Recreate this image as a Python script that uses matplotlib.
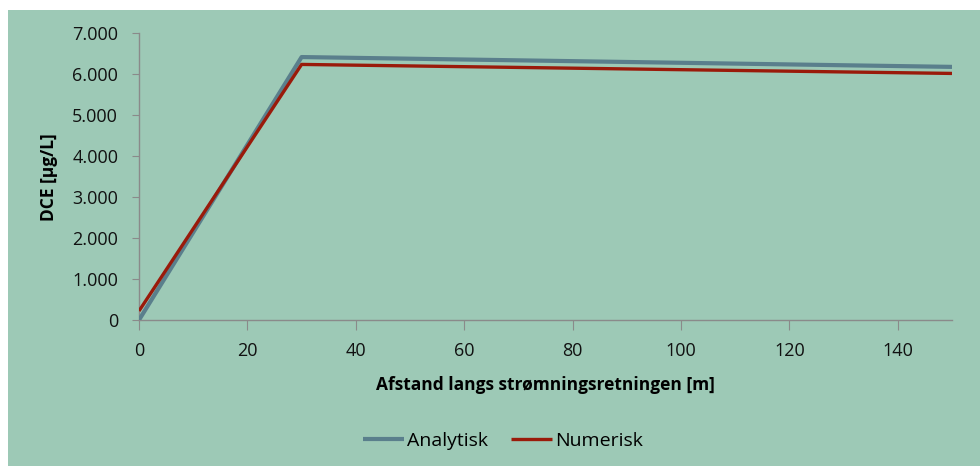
import matplotlib
matplotlib.use("Agg")
import matplotlib.pyplot as plt
from matplotlib.patches import Rectangle
from matplotlib.ticker import FuncFormatter

# Data
x_analytic = [0, 30, 150]
y_analytic = [0, 6420, 6180]
x_numeric = [0, 30, 150]
y_numeric = [220, 6240, 6020]

xticks = [0, 20, 40, 60, 80, 100, 120, 140]
yticks = [0, 1000, 2000, 3000, 4000, 5000, 6000, 7000]

BG = "#9DC9B6"
C_AN = "#5A7F8C"
C_NU = "#9A1A0A"
SPINE = "#8A8A8A"

plt.rcParams['font.family'] = ['Open Sans', 'DejaVu Sans']

fig = plt.figure(figsize=(9.8, 4.66), dpi=100)
fig.patch.set_facecolor(BG)
# white margins at top and left
fig.patches.append(Rectangle((0, 0), 8/980, 1, transform=fig.transFigure,
                             facecolor="white", edgecolor="none", zorder=-10))
fig.patches.append(Rectangle((0, 1 - 10/466), 1, 10/466, transform=fig.transFigure,
                             facecolor="white", edgecolor="none", zorder=-10))

ax = fig.add_axes([139/980, 1 - 320/466, (952 - 139)/980, (320 - 33.3)/466])
ax.set_facecolor(BG)

ax.plot(x_analytic, y_analytic, color=C_AN, lw=3.0, label="Analytisk", solid_capstyle="butt", zorder=3)
ax.plot(x_numeric, y_numeric, color=C_NU, lw=2.4, label="Numerisk", solid_capstyle="butt", zorder=4)

ax.set_xlim(0, 150)
ax.set_ylim(0, 7000)
ax.set_xticks(xticks)
ax.set_yticks(yticks)

def fmt(v, pos):
    return f"{int(v):,}".replace(",", ".")
ax.yaxis.set_major_formatter(FuncFormatter(fmt))

for s in ["top", "right"]:
    ax.spines[s].set_visible(False)
for s in ["left", "bottom"]:
    ax.spines[s].set_color(SPINE)
    ax.spines[s].set_linewidth(1.0)

ax.tick_params(axis="x", length=7, color=SPINE, labelsize=13, pad=9, labelcolor="#111111")
ax.tick_params(axis="y", length=5, color=SPINE, labelsize=13, pad=10, labelcolor="#111111")

ax.set_xlabel("Afstand langs strømningsretningen [m]", fontsize=12.5, fontweight="bold", labelpad=11)
ax.set_ylabel("DCE [µg/L]", fontsize=12.5, fontweight="bold", labelpad=10)

leg = fig.legend(loc="center", bbox_to_anchor=(503/980, 1 - 441/466), ncol=2, frameon=False,
                 fontsize=14, handlelength=2.1, handletextpad=0.15, columnspacing=1.2)

fig.savefig("out.png", dpi=100, facecolor=fig.get_facecolor())
